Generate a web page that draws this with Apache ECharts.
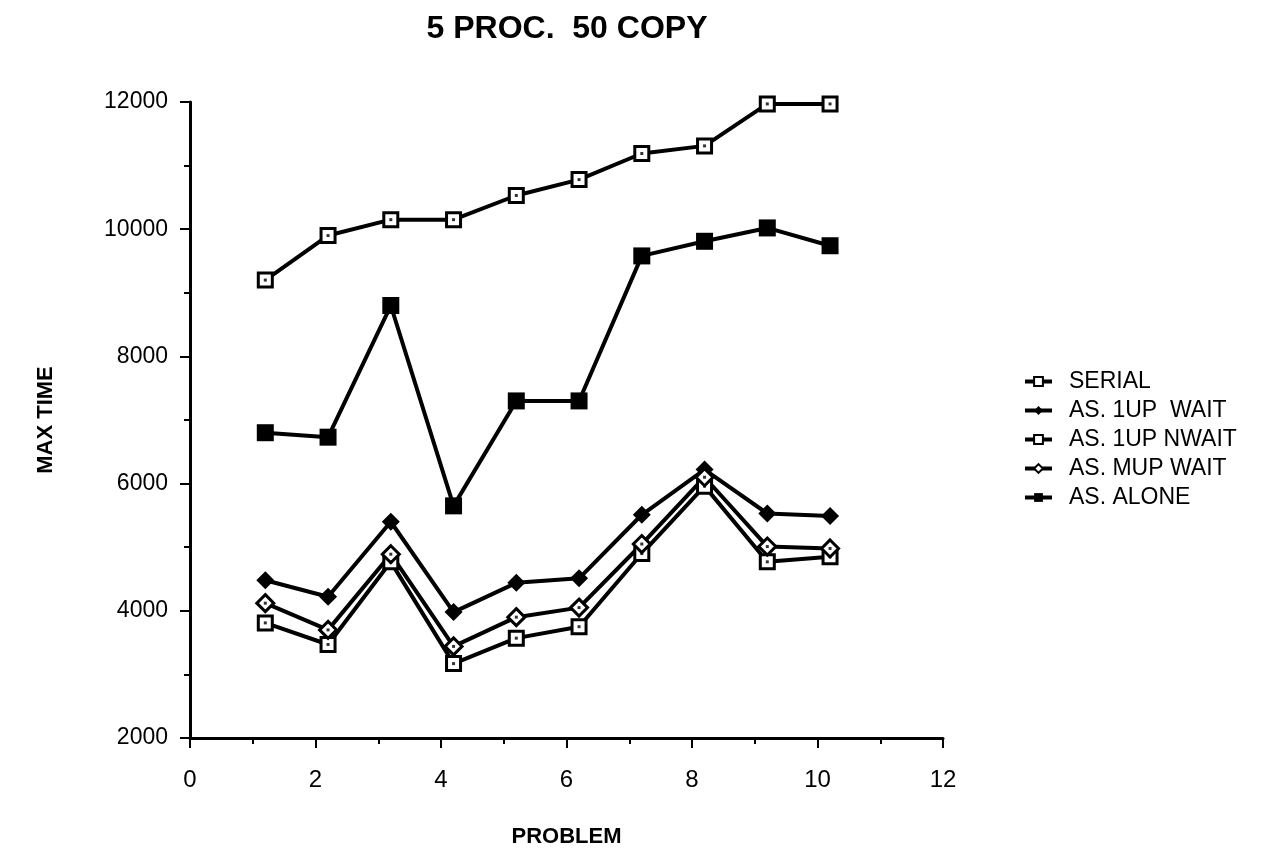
<!DOCTYPE html>
<html>
<head>
<meta charset="utf-8">
<script src="https://cdn.jsdelivr.net/npm/echarts@6/dist/echarts.min.js"></script>
<style>
  html, body { margin: 0; padding: 0; background: #fff; }
  #chart { width: 1271px; height: 867px; }
</style>
</head>
<body>
<div id="chart"></div>
<script>
  // problem positions (markers sit slightly right of the integer ticks)
  const problems = [1.2, 2.2, 3.2, 4.2, 5.2, 6.2, 7.2, 8.2, 9.2, 10.2];

  const serial = [9200, 9900, 10150, 10150, 10530, 10780, 11190, 11310, 11970, 11970];
  const as1upWait = [4480, 4220, 5400, 3980, 4440, 4510, 5510, 6220, 5530, 5490];
  const as1upNwait = [3810, 3470, 4770, 3170, 3570, 3750, 4900, 5960, 4770, 4850];
  const asMupWait = [4120, 3700, 4890, 3440, 3900, 4050, 5050, 6100, 5010, 4980];
  const asAlone = [6800, 6730, 8800, 5650, 7300, 7300, 9580, 9810, 10020, 9740];

  const xTicks = [0, 2, 4, 6, 8, 10, 12];
  const yTicks = [2000, 4000, 6000, 8000, 10000, 12000];

  const font = 'Liberation Sans, Arial, sans-serif';

  const pairs = (ys) => problems.map((x, i) => [x, ys[i]]);

  const mkSeries = (name, ys, symbol, size, filled) => ({
    name: name,
    type: 'line',
    data: pairs(ys),
    symbol: symbol,
    symbolSize: size,
    showAllSymbol: true,
    lineStyle: { color: '#000', width: 4 },
    itemStyle: {
      color: filled ? '#000' : '#fff',
      borderColor: '#000',
      borderWidth: filled ? 0 : 3,
    },
    emphasis: { disabled: true },
    z: 3,
  });

  // little centre dot inside the hollow markers (not in legend)
  const mkDots = (name, ys) => ({
    name: name + ' dot',
    type: 'scatter',
    data: pairs(ys),
    symbol: 'rect',
    symbolSize: 3,
    itemStyle: { color: '#000' },
    emphasis: { disabled: true },
    silent: true,
    z: 4,
  });

  const chart = echarts.init(document.getElementById('chart'), null, { renderer: 'canvas' });

  const option = {
    backgroundColor: '#fff',
    animation: false,
    textStyle: { fontFamily: font, color: '#000' },
    title: {
      text: '5 PROC.  50 COPY',
      left: 562,
      top: 8,
      textAlign: 'center',
      textStyle: { fontFamily: font, fontSize: 32, fontWeight: 'bold', color: '#000' },
    },
    grid: {
      left: 190,
      right: 328,
      top: 102,
      bottom: 129,
      containLabel: false,
    },
    legend: {
      orient: 'vertical',
      left: 1018,
      top: 365,
      itemGap: 6,
      itemWidth: 27,
      itemHeight: 11,
      lineStyle: { width: 4 },
      textStyle: { fontFamily: font, fontSize: 23, color: '#000', padding: [0, 0, 0, 12] },
      data: ['SERIAL', 'AS. 1UP  WAIT', 'AS. 1UP NWAIT', 'AS. MUP WAIT', 'AS. ALONE'],
    },
    xAxis: {
      type: 'value',
      min: 0,
      max: 12,
      interval: 2,
      name: 'PROBLEM',
      nameLocation: 'middle',
      nameGap: 88,
      nameTextStyle: { fontFamily: font, fontSize: 22, fontWeight: 'bold', color: '#000' },
      axisLine: { show: true, onZero: false, lineStyle: { color: '#000', width: 3 } },
      axisTick: { show: true, length: 10, lineStyle: { color: '#000', width: 2 } },
      minorTick: { show: true, splitNumber: 2, length: 6, lineStyle: { color: '#000', width: 2 } },
      splitLine: { show: false },
      axisLabel: {
        margin: 30,
        fontSize: 24,
        fontFamily: font,
        color: '#000',
        formatter: (v) => (xTicks.includes(v) ? String(v) : ''),
      },
    },
    yAxis: {
      type: 'value',
      min: 2000,
      max: 12000,
      interval: 2000,
      name: 'MAX TIME',
      nameLocation: 'middle',
      nameGap: 133,
      nameRotate: 90,
      nameTextStyle: { fontFamily: font, fontSize: 22, fontWeight: 'bold', color: '#000' },
      axisLine: { show: true, onZero: false, lineStyle: { color: '#000', width: 3 } },
      axisTick: { show: true, length: 10, lineStyle: { color: '#000', width: 2 } },
      minorTick: { show: true, splitNumber: 2, length: 6, lineStyle: { color: '#000', width: 2 } },
      splitLine: { show: false },
      axisLabel: {
        margin: 22,
        fontSize: 23,
        fontFamily: font,
        color: '#000',
        formatter: (v) => (yTicks.includes(v) ? String(v) : ''),
      },
    },
    series: [
      mkSeries('SERIAL', serial, 'rect', 14, false),
      mkSeries('AS. 1UP  WAIT', as1upWait, 'diamond', 18, true),
      mkSeries('AS. 1UP NWAIT', as1upNwait, 'rect', 14, false),
      mkSeries('AS. MUP WAIT', asMupWait, 'diamond', 17, false),
      mkSeries('AS. ALONE', asAlone, 'rect', 17, true),
      mkDots('SERIAL', serial),
      mkDots('AS. 1UP NWAIT', as1upNwait),
      mkDots('AS. MUP WAIT', asMupWait),
    ],
  };

  chart.setOption(option);
</script>
</body>
</html>
